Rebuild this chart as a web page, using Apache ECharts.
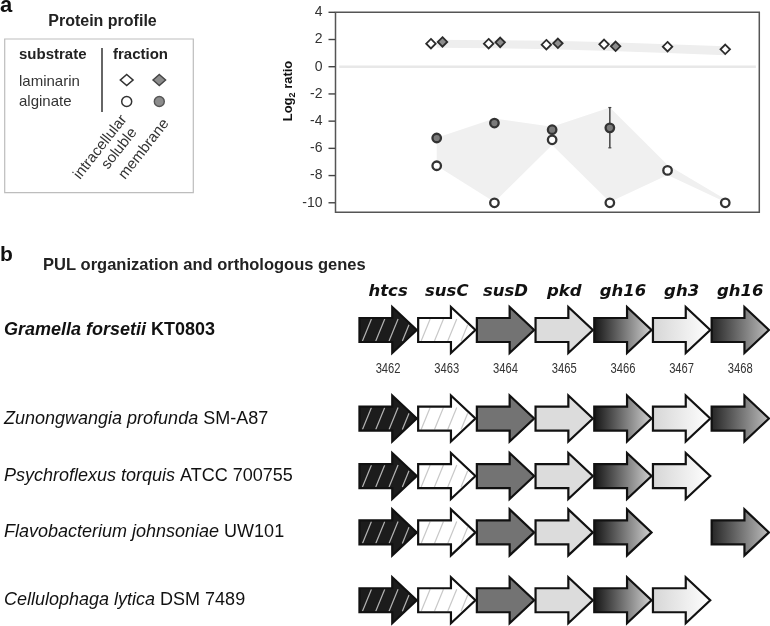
<!DOCTYPE html>
<html><head><meta charset="utf-8">
<script src="https://cdn.jsdelivr.net/npm/echarts@6/dist/echarts.min.js"></script>
<style>html,body{margin:0;padding:0;background:#fff}#c{width:770px;height:626px}</style>
</head><body><div id="c"></div>
<script>
// ---------------- data ----------------
// panel a: protein profile (x = gene index: 1 = susC ... 6 = gh16)
const profileGroups = [1, 2, 3, 4, 5, 6];
const lamSoluble  = [1.69, 1.69, 1.62, 1.65, 1.47, 1.28];
const lamMembrane = [1.82, 1.79, 1.72, 1.50, null, null];
const algSoluble  = [-7.28, -10, -5.37, -10, -7.62, -10];
const algMembrane = [-5.24, -4.14, -4.63, -4.49, null, null];
const algMembraneErrLow  = [null, null, null, -5.96, null, null];
const algMembraneErrHigh = [null, null, null, -3.0, null, null];
const lamRangeHigh = [1.98, 1.95, 1.90, 1.80, 1.65, 1.50];
const lamRangeLow  = [1.40, 1.35, 1.28, 1.15, 1.00, 0.85];
const algRangeHigh = [-5.22, -3.80, -4.41, -3.00, -7.23, -9.75];
const algRangeLow  = [-7.28, -9.95, -5.76, -9.95, -7.96, -9.95];
const yTicks = [4, 2, 0, -2, -4, -6, -8, -10];

// panel b: PUL organization
const genes = ['htcs', 'susC', 'susD', 'pkd', 'gh16', 'gh3', 'gh16'];
const locusTags = ['3462', '3463', '3464', '3465', '3466', '3467', '3468'];
const speciesNames = ['Gramella forsetii', 'Zunongwangia profunda', 'Psychroflexus torquis', 'Flavobacterium johnsoniae', 'Cellulophaga lytica'];
const strainNames = ['KT0803', 'SM-A87', 'ATCC 700755', 'UW101', 'DSM 7489'];
const genePresence = [
  [1, 1, 1, 1, 1, 1, 1],
  [1, 1, 1, 1, 1, 1, 1],
  [1, 1, 1, 1, 1, 1, 0],
  [1, 1, 1, 1, 1, 0, 1],
  [1, 1, 1, 1, 1, 1, 0]
];

// ---------------- layout / style ----------------
const X_MIN = -0.754, X_MAX = 6.59;
const rowTrack = [0, 1.54, 2.54, 3.52, 4.7];
const lin = (a, b) => ({type: 'linear', x: 0, y: 0, x2: 1, y2: 0, colorStops: [{offset: 0, color: a}, {offset: 1, color: b}]});
const geneFill = ['#1c1c1c', '#ffffff', '#737373', '#dcdcdc', lin('#161616', '#d0d0d0'), lin('#d6d6d6', '#ffffff'), lin('#262626', '#bdbdbd')];
const geneHatch = ['#b4b4b4', '#c8c8c8', null, null, null, null, null];
const SANS = "'Liberation Sans', Arial, sans-serif";

const chart = echarts.init(document.getElementById('c'), null, {renderer: 'canvas'});

function bandSeries(high, low, color) {
  return {
    type: 'custom', xAxisIndex: 0, yAxisIndex: 0, silent: true, z: 1,
    data: [0],
    renderItem: function (params, api) {
      const pts = [];
      profileGroups.forEach((g, i) => pts.push(api.coord([g, high[i]])));
      for (let i = profileGroups.length - 1; i >= 0; i--) pts.push(api.coord([profileGroups[i], low[i]]));
      return {type: 'polygon', shape: {points: pts}, style: {fill: color}};
    }
  };
}

function pts(vals, offsetIf) {
  const out = [];
  vals.forEach((v, i) => {
    if (v == null) return;
    let dx = 0;
    if (offsetIf) dx = offsetIf(i);
    out.push([profileGroups[i] + dx, v]);
  });
  return out;
}

const arrowData = [];
genePresence.forEach((row, r) => row.forEach((p, g) => { if (p) arrowData.push([g, rowTrack[r], r]); }));

function renderArrow(params, api) {
  const g = api.value(0), r = api.value(2);
  const c = api.coord([g, api.value(1)]);
  const band = api.size([1, 0])[0];
  const hw = band * 0.488;
  const x0 = c[0] - hw, x1 = c[0] + hw, cy = c[1];
  const bh = 12, hh = 23, hl = 24.5, xb = x1 - hl;
  const shape = [[x0, cy - bh], [xb, cy - bh], [xb, cy - hh], [x1, cy], [xb, cy + hh], [xb, cy + bh], [x0, cy + bh]];
  const children = [{type: 'polygon', shape: {points: shape}, style: {fill: geneFill[g]}}];
  if (geneHatch[g]) {
    const inside = (x, y) => {
      if (x < x0 + 1 || x > x1 - 1) return false;
      const d = Math.abs(y - cy);
      if (x <= xb) return d <= bh - 1;
      return d <= hh * (1 - (x - xb) / hl) - 1.5;
    };
    for (let k = 0; k < 4; k++) {
      const xs = x0 + 3 + 13.3 * k;
      const P = [xs, cy + bh - 1], Q = [xs + 9, cy - bh + 1];
      let t0 = -1, t1 = -1;
      for (let t = 0; t <= 1.0001; t += 0.02) {
        const x = P[0] + (Q[0] - P[0]) * t, y = P[1] + (Q[1] - P[1]) * t;
        if (inside(x, y)) { if (t0 < 0) t0 = t; t1 = t; }
      }
      if (t0 >= 0 && t1 > t0) {
        children.push({type: 'line', shape: {
          x1: P[0] + (Q[0] - P[0]) * t0, y1: P[1] + (Q[1] - P[1]) * t0,
          x2: P[0] + (Q[0] - P[0]) * t1, y2: P[1] + (Q[1] - P[1]) * t1},
          style: {stroke: geneHatch[g], lineWidth: 1.2}});
      }
    }
  }
  children.push({type: 'polygon', shape: {points: shape}, style: {fill: 'none', stroke: '#111', lineWidth: 2.2, lineJoin: 'miter'}});
  if (r === 0) {
    children.push({type: 'text', x: c[0], y: cy - 38.5, style: {text: genes[g], fontFamily: "'DejaVu Sans', sans-serif", fontWeight: 'bold', fontStyle: 'italic', fontSize: 16.5, fill: '#111', align: 'center', verticalAlign: 'middle'}});
    children.push({type: 'text', x: c[0], y: cy + 39, scaleX: 0.8, style: {text: locusTags[g], fontFamily: SANS, fontSize: 14, fill: '#333', align: 'center', verticalAlign: 'middle'}});
  }
  return {type: 'group', children: children};
}

function renderSpecies(params, api) {
  const r = api.value(2);
  const y = api.coord([0, api.value(1)])[1];
  const w = r === 0 ? 'bold' : 'normal';
  return {type: 'text', x: 4, y: y, style: {
    text: '{i|' + speciesNames[r] + '} {n|' + strainNames[r] + '}',
    fontFamily: SANS, fontSize: 18, fontWeight: w, fill: '#111', align: 'left', verticalAlign: 'middle',
    rich: {
      i: {fontFamily: SANS, fontSize: 18, fontStyle: 'italic', fontWeight: w, fill: '#111'},
      n: {fontFamily: SANS, fontSize: 18, fontWeight: w, fill: '#111'}
    }}};
}

const rot = 52 * Math.PI / 180;
const legendGraphics = [
  {type: 'text', x: 0, y: 6, style: {text: 'a', fontFamily: SANS, fontWeight: 'bold', fontSize: 22, fill: '#111', verticalAlign: 'middle'}},
  {type: 'text', x: 102.5, y: 22, style: {text: 'Protein profile', fontFamily: SANS, fontWeight: 'bold', fontSize: 16, fill: '#222', align: 'center', verticalAlign: 'middle'}},
  {type: 'rect', shape: {x: 4.7, y: 39, width: 188.6, height: 153.7}, style: {fill: 'none', stroke: '#bdbdbd', lineWidth: 1.2}},
  {type: 'text', x: 19, y: 55, style: {text: 'substrate', fontFamily: SANS, fontWeight: 'bold', fontSize: 15, fill: '#222', verticalAlign: 'middle'}},
  {type: 'text', x: 113, y: 55, style: {text: 'fraction', fontFamily: SANS, fontWeight: 'bold', fontSize: 15, fill: '#222', verticalAlign: 'middle'}},
  {type: 'line', shape: {x1: 102, y1: 48, x2: 102, y2: 112}, style: {stroke: '#666', lineWidth: 2}},
  {type: 'text', x: 19, y: 82, style: {text: 'laminarin', fontFamily: SANS, fontSize: 15, fill: '#333', verticalAlign: 'middle'}},
  {type: 'text', x: 19, y: 102, style: {text: 'alginate', fontFamily: SANS, fontSize: 15, fill: '#333', verticalAlign: 'middle'}},
  {type: 'polygon', shape: {points: [[126.7, 74.5], [133, 80], [126.7, 85.5], [120.4, 80]]}, style: {fill: '#fff', stroke: '#333', lineWidth: 1.6}},
  {type: 'polygon', shape: {points: [[159.3, 74.5], [165.6, 80], [159.3, 85.5], [153, 80]]}, style: {fill: '#8c8c8c', stroke: '#444', lineWidth: 1.4}},
  {type: 'circle', shape: {cx: 126.7, cy: 101.5, r: 5}, style: {fill: '#fff', stroke: '#333', lineWidth: 1.5}},
  {type: 'circle', shape: {cx: 159.3, cy: 101.5, r: 5}, style: {fill: '#8c8c8c', stroke: '#555', lineWidth: 1.4}},
  {type: 'text', x: 124, y: 117, rotation: rot, style: {text: 'intracellular', fontFamily: SANS, fontSize: 15, fill: '#333', align: 'right', verticalAlign: 'middle'}},
  {type: 'text', x: 134, y: 130, rotation: rot, style: {text: 'soluble', fontFamily: SANS, fontSize: 15, fill: '#333', align: 'right', verticalAlign: 'middle'}},
  {type: 'text', x: 166, y: 121, rotation: rot, style: {text: 'membrane', fontFamily: SANS, fontSize: 15, fill: '#333', align: 'right', verticalAlign: 'middle'}},
  {type: 'text', x: 288, y: 91, rotation: Math.PI / 2, style: {
    text: '{a|Log}{b|2}{a| ratio}', align: 'center', verticalAlign: 'middle',
    rich: {
      a: {fontFamily: SANS, fontWeight: 'bold', fontSize: 13, fill: '#111', lineHeight: 18},
      b: {fontFamily: SANS, fontWeight: 'bold', fontSize: 9, fill: '#111', lineHeight: 10, verticalAlign: 'bottom'}
    }}},
  {type: 'text', x: 0, y: 255.5, style: {text: 'b', fontFamily: SANS, fontWeight: 'bold', fontSize: 21, fill: '#111', verticalAlign: 'middle'}},
  {type: 'text', x: 43, y: 265, style: {text: 'PUL organization and orthologous genes', fontFamily: SANS, fontWeight: 'bold', fontSize: 16.5, fill: '#222', verticalAlign: 'middle'}}
];

const option = {
  animation: false,
  backgroundColor: '#fff',
  textStyle: {fontFamily: SANS},
  grid: [
    {left: 335.5, top: 12.3, width: 423.8, height: 200, show: true, borderColor: '#555', borderWidth: 1.5, backgroundColor: 'transparent'},
    {left: 358.75, top: 301.25, width: 410.9, height: 316.25}
  ],
  xAxis: [
    {type: 'value', gridIndex: 0, min: X_MIN, max: X_MAX, show: false},
    {type: 'value', gridIndex: 1, min: -0.5, max: 6.5, show: false}
  ],
  yAxis: [
    {type: 'value', gridIndex: 0, min: -10.7, max: 4, position: 'left',
     axisLine: {show: false, onZero: false}, splitLine: {show: false}, axisTick: {show: false},
     axisLabel: {customValues: yTicks, fontSize: 14, color: '#333', margin: 13}},
    {type: 'value', gridIndex: 1, min: -0.5, max: 5, inverse: true, show: false}
  ],
  graphic: legendGraphics,
  series: [
    bandSeries(lamRangeHigh, lamRangeLow, '#eeeeee'),
    bandSeries(algRangeHigh, algRangeLow, '#f0f0f0'),
    {type: 'line', xAxisIndex: 0, yAxisIndex: 0, data: [[-0.69, 0], [6.53, 0]], symbol: 'none', silent: true, z: 2,
     lineStyle: {color: '#e8e8e8', width: 2.5}},
    {type: 'custom', xAxisIndex: 0, yAxisIndex: 0, z: 3, silent: true,
     data: profileGroups.map((g, i) => [g, algMembraneErrLow[i], algMembraneErrHigh[i]]).filter(d => d[1] != null),
     renderItem: function (params, api) {
       const lo = api.coord([api.value(0), api.value(1)]);
       const hi = api.coord([api.value(0), api.value(2)]);
       return {type: 'group', children: [
         {type: 'line', shape: {x1: lo[0], y1: lo[1], x2: hi[0], y2: hi[1]}, style: {stroke: '#444', lineWidth: 1.5}},
         {type: 'line', shape: {x1: lo[0] - 1.5, y1: lo[1], x2: lo[0] + 1.5, y2: lo[1]}, style: {stroke: '#444', lineWidth: 1.2}},
         {type: 'line', shape: {x1: hi[0] - 1.5, y1: hi[1], x2: hi[0] + 1.5, y2: hi[1]}, style: {stroke: '#444', lineWidth: 1.2}}
       ]};
     }},
    {type: 'scatter', name: 'laminarin soluble', xAxisIndex: 0, yAxisIndex: 0, z: 4, symbol: 'diamond', symbolSize: 9.5,
     data: pts(lamSoluble, i => lamMembrane[i] != null ? -0.1 : 0),
     itemStyle: {color: '#fff', borderColor: '#2b2b2b', borderWidth: 1.8, opacity: 1}},
    {type: 'scatter', name: 'laminarin membrane', xAxisIndex: 0, yAxisIndex: 0, z: 4, symbol: 'diamond', symbolSize: 9.5,
     data: pts(lamMembrane, () => 0.1),
     itemStyle: {color: '#8c8c8c', borderColor: '#2b2b2b', borderWidth: 1.8, opacity: 1}},
    {type: 'scatter', name: 'alginate soluble', xAxisIndex: 0, yAxisIndex: 0, z: 4, symbol: 'circle', symbolSize: 8.5,
     data: pts(algSoluble),
     itemStyle: {color: '#fff', borderColor: '#333', borderWidth: 2.3, opacity: 1}},
    {type: 'scatter', name: 'alginate membrane', xAxisIndex: 0, yAxisIndex: 0, z: 5, symbol: 'circle', symbolSize: 8.5,
     data: pts(algMembrane),
     itemStyle: {color: '#7a7a7a', borderColor: '#333', borderWidth: 2.3, opacity: 1}},
    {type: 'custom', xAxisIndex: 1, yAxisIndex: 1, clip: false, silent: true,
     data: arrowData, renderItem: renderArrow},
    {type: 'custom', xAxisIndex: 1, yAxisIndex: 1, clip: false, silent: true,
     data: speciesNames.map((s, r) => [0, rowTrack[r], r]), renderItem: renderSpecies}
  ]
};
chart.setOption(option);

// y-axis tick marks outside the frame, positioned through the chart's own y scale
const tickMarks = yTicks.map(v => {
  const p = chart.convertToPixel({gridIndex: 0}, [X_MIN, v]);
  return {type: 'line', z: 100, silent: true,
    shape: {x1: p[0] - 7, y1: p[1], x2: p[0] - 0.5, y2: p[1]},
    style: {stroke: '#444', lineWidth: 1.4}};
});
chart.setOption({graphic: legendGraphics.concat(tickMarks)});
</script>
</body></html>
